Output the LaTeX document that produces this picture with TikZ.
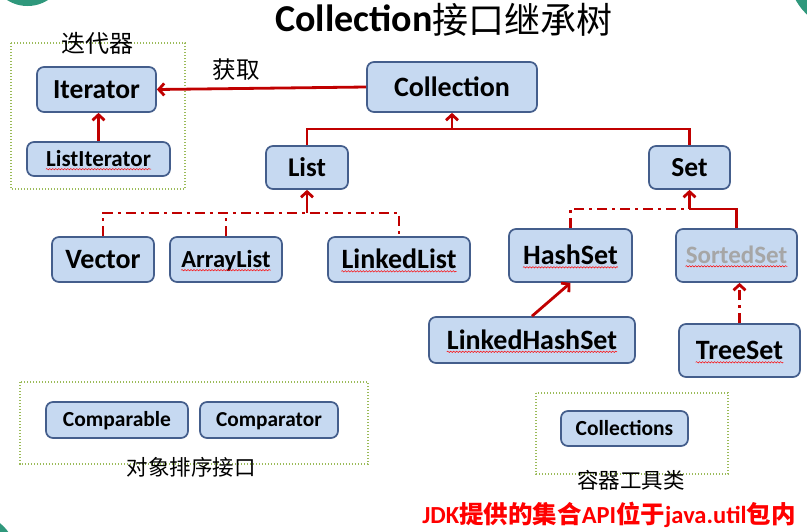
\documentclass[tikz,border=0pt]{standalone}
\usepackage{fontspec}
\setmainfont{Carlito}
\newfontfamily\cjk{Noto Sans CJK SC}
\usetikzlibrary{arrows.meta,decorations.pathmorphing}
\definecolor{boxfill}{RGB}{198,217,241}
\definecolor{boxline}{RGB}{68,94,140}
\definecolor{conred}{RGB}{192,0,0}
\definecolor{grpgreen}{RGB}{155,187,89}
\definecolor{teal1}{RGB}{47,152,124}
\definecolor{greytext}{RGB}{166,166,166}
\newcommand\fs[1]{\fontsize{#1}{#1}\selectfont}
\tikzset{
  box/.style={draw=boxline, fill=boxfill, line width=1.7pt, rounded corners=7pt, inner sep=0pt},
  lbl/.style={inner sep=0pt, anchor=base, font=\bfseries},
  squig/.style={draw=red, line width=0.5pt, decorate, decoration={snake, amplitude=0.7pt, segment length=3pt}},
  conn/.style={draw=conred, line width=2.8pt},
  tip/.style={-{Straight Barb[length=5.5pt,width=12pt]}},
  dd/.style={dash pattern=on 10pt off 5pt on 3pt off 5pt},
  grp/.style={draw=grpgreen, line width=1.4pt, dash pattern=on 1.3pt off 1.7pt},
  txt/.style={inner sep=0pt}
}
\begin{document}
\begin{tikzpicture}[x=1pt,y=-1pt]
\useasboundingbox (0,0) rectangle (807,531);
\begin{scope}
  \clip (0,0) rectangle (807,531);
  \fill[teal1] (27.5,-32) circle[radius=38pt];
  \fill[teal1] (850,-30) circle[radius=62pt];
  \fill[teal1] (-30,560) circle[radius=47.5pt];
\end{scope}

% title
\node[txt, anchor=base] (title) at (444,31) {{\fs{38}\bfseries Collection}{\cjk\fs{36}\raisebox{-2pt}{接口继承树}}};

% groups
\draw[grp] (11,43) rectangle (185,189);
\draw[grp] (20,382) rectangle (368,464);
\draw[grp] (536,393) rectangle (728,474);

\node[txt, font=\cjk\fs{24}] (lbldd) at (97,43) {迭代器};
\node[txt, font=\cjk\fs{23.5}] (lblhq) at (236,70) {获取};
\node[txt, font=\cjk\fs{21.5}] (lblpx) at (191,467) {对象排序接口};
\node[txt, font=\cjk\fs{21.5}] (lblgj) at (631,480) {容器工具类};

% boxes
\node[box, minimum width=119pt, minimum height=45pt] (it) at (96.5,89.5) {};
\node[box, minimum width=143pt, minimum height=34pt] (lit) at (98.5,159) {};
\node[box, minimum width=170pt, minimum height=50pt] (col) at (452,87) {};
\node[box, minimum width=82pt, minimum height=43pt] (list) at (307,167.5) {};
\node[box, minimum width=81pt, minimum height=43pt] (set) at (689.5,167.5) {};
\node[box, minimum width=102pt, minimum height=45pt] (vec) at (103,259.5) {};
\node[box, minimum width=112pt, minimum height=45pt] (al) at (226,259.5) {};
\node[box, minimum width=142pt, minimum height=45pt] (ll) at (399,259.5) {};
\node[box, minimum width=123pt, minimum height=53pt] (hs) at (570.5,255.5) {};
\node[box, minimum width=121pt, minimum height=53pt] (ss) at (736.5,255.5) {};
\node[box, minimum width=206pt, minimum height=46pt] (lhs) at (532,340) {};
\node[box, minimum width=121pt, minimum height=53pt] (ts) at (739.5,350.5) {};
\node[box, minimum width=142pt, minimum height=36pt] (cmpb) at (117,420) {};
\node[box, minimum width=138pt, minimum height=36pt] (cmpr) at (269,420) {};
\node[box, minimum width=127pt, minimum height=35pt] (cols) at (624.5,428.5) {};

% texts
\node[lbl, font=\bfseries\fs{27.5}] (itT) at ([yshift=-8.8pt]it.center) {Iterator};
\node[lbl, font=\bfseries\fs{23}] (litT) at ([yshift=-7.4pt]lit.center) {ListIterator};
\node[lbl, font=\bfseries\fs{28}] (colT) at ([yshift=-9pt]col.center) {Collection};
\node[lbl, font=\bfseries\fs{27}] (listT) at ([yshift=-8.7pt]list.center) {List};
\node[lbl, font=\bfseries\fs{27.5}] (setT) at ([yshift=-8.8pt]set.center) {Set};
\node[lbl, font=\bfseries\fs{28}] (vecT) at ([yshift=-9pt]vec.center) {Vector};
\node[lbl, font=\bfseries\fs{24.5}] (alT) at ([yshift=-7.9pt]al.center) {ArrayList};
\node[lbl, font=\bfseries\fs{28}] (llT) at ([yshift=-9pt]ll.center) {LinkedList};
\node[lbl, font=\bfseries\fs{28}] (hsT) at ([yshift=-9pt]hs.center) {HashSet};
\node[lbl, font=\bfseries\fs{25}, text=greytext] (ssT) at ([yshift=-8pt]ss.center) {SortedSet};
\node[lbl, font=\bfseries\fs{28}] (lhsT) at ([yshift=-9pt]lhs.center) {LinkedHashSet};
\node[lbl, font=\bfseries\fs{28}] (tsT) at ([yshift=-9pt]ts.center) {TreeSet};
\node[lbl, font=\bfseries\fs{21.5}] (cmpbT) at ([yshift=-6.9pt]cmpb.center) {Comparable};
\node[lbl, font=\bfseries\fs{21.3}] (cmprT) at ([yshift=-6.9pt]cmpr.center) {Comparator};
\node[lbl, font=\bfseries\fs{21.5}] (colsT) at ([yshift=-6.9pt]cols.center) {Collections};

% squiggles
\foreach \t in {litT,alT,llT,hsT,ssT,lhsT,tsT}
  \draw[squig] ([yshift=-2.8pt]\t.base west) -- ([yshift=-2.8pt]\t.base east);

% connectors
\draw[conn, tip] (col.west) -- (it.east);
\draw[conn, tip] (lit.north) -- (lit.north |- it.south);

\coordinate (j1) at (452,129);
\draw[conn] (list.north) -- (list.north |- j1) -- (set.north |- j1) -- (set.north);
\draw[conn, tip] (j1) -- (col.south);

\coordinate (j2) at (307,213);
\draw[conn, dd] (vec.north) -- (vec.north |- j2) -- (ll.north |- j2) -- (ll.north);
\draw[conn, dd] (al.north) -- (al.north |- j2);
\draw[conn, tip] (j2) -- (list.south);

\coordinate (j3) at (689.5,209);
\draw[conn, dd] (hs.north) -- (hs.north |- j3) -- (j3);
\draw[conn] (ss.north) -- (ss.north |- j3) -- (j3);
\draw[conn, tip] (j3) -- (set.south);

\draw[conn, tip] (lhs.north) -- (hs.south);
\draw[conn, dd, tip] (ts.north) -- (ts.north |- ss.south);

% footer
\node[txt, anchor=base, text=red, font=\bfseries\fs{24.5}] (jdk) at (609,523)
  {JDK{\cjk\bfseries 提供的集合}API{\cjk\bfseries 位于}java.util{\cjk\bfseries 包内}};
\end{tikzpicture}
\end{document}
